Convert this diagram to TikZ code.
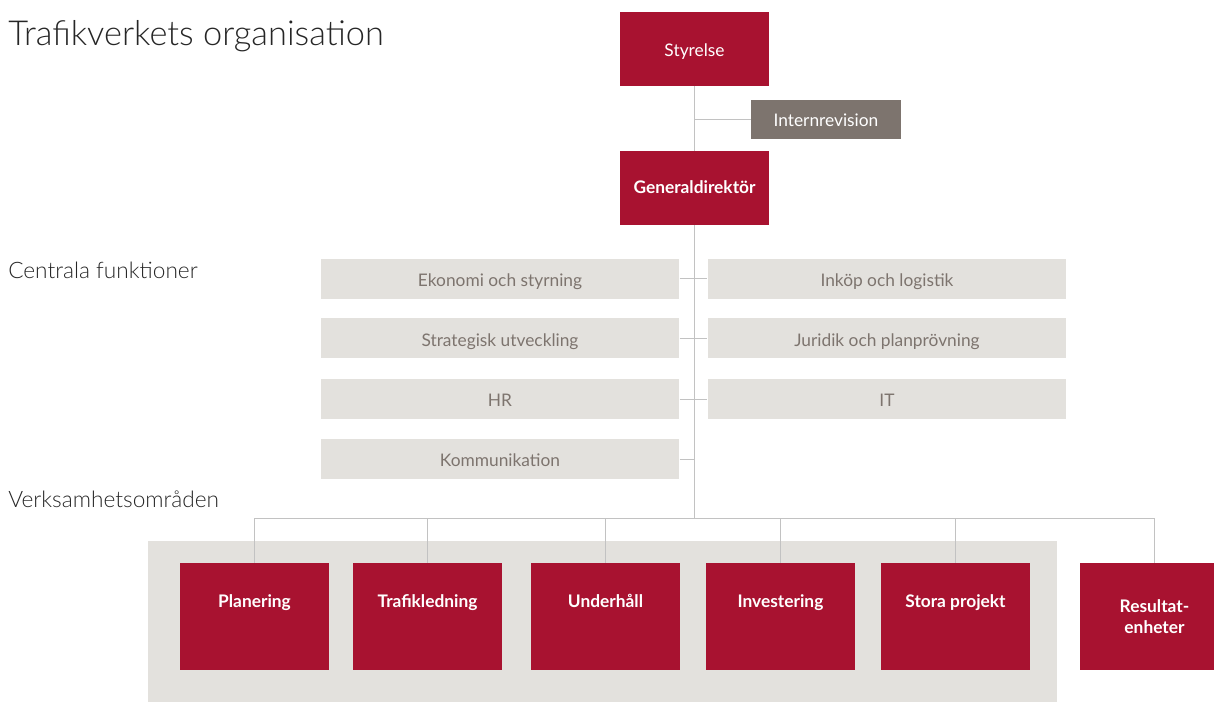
\documentclass[tikz,border=0pt]{standalone}
\usepackage{fontspec}
\setmainfont{Lato}
\IfFontExistsTF{Lato Light}{\newfontfamily\tunnfont{Lato Light}}{\newfontfamily\tunnfont{Lato}}
\definecolor{rod}{HTML}{A81230}
\definecolor{ljusgra}{HTML}{E3E1DD}
\definecolor{brungra}{HTML}{7D746E}
\definecolor{linjegra}{HTML}{C2C2C2}

\begin{document}
\begin{tikzpicture}[x=0.75pt,y=-0.75pt]
\tikzstyle{ruta rod}=[fill=rod,text=white,align=center,minimum width=111.75pt,minimum height=55.5pt,font=\fontsize{13}{16.5}\selectfont]
\tikzstyle{ruta enhet}=[ruta rod,minimum height=80.25pt,font=\fontsize{13}{16}\selectfont\bfseries]
\tikzstyle{topp}=[text height=9.5pt,text depth=23pt]
\tikzstyle{ruta gra}=[fill=ljusgra,text=brungra,minimum width=269pt,minimum height=30pt,text height=11.5pt,text depth=0pt,font=\fontsize{13}{15}\selectfont]
\tikzstyle{rubrik}=[anchor=base west,inner sep=0pt,font=\fontsize{17}{20}\selectfont\tunnfont,text=black!85]
\tikzstyle{linje}=[draw=linjegra,line width=0.75pt]

\useasboundingbox (0,0) rectangle (1214,702);
\fill[ljusgra] (148,541) rectangle (1057,702);

\node[rubrik,font=\fontsize{25.8}{30}\selectfont\tunnfont] (v0) at (8,46) {Trafikverkets organisation};
\node[rubrik] (v00) at (8,279) {Centrala funktioner};
\node[rubrik] (v000) at (8,507) {Verksamhetsområden};

\node[ruta rod,text height=12pt,text depth=0pt] (v1) at (694.5,49) {Styrelse};
\node[ruta rod,fill=brungra,minimum width=112.5pt,minimum height=29.25pt,text height=11pt,text depth=0pt] (v2) at (826,119.5) {Internrevision};
\node[ruta rod,text height=9.5pt,text depth=1pt,font=\fontsize{13}{16}\selectfont\bfseries] (v3) at (694.5,188) {Generaldirektör};

% centrala funktioner
\node[ruta gra] (v4) at (500,279) {Ekonomi och styrning};
\node[ruta gra] (v5) at (500,338.5) {Strategisk utveckling};
\node[ruta gra] (v6) at (500,399) {HR};
\node[ruta gra] (v7) at (500,459) {Kommunikation};
\node[ruta gra] (v8) at (887,279) {Inköp och logistik};
\node[ruta gra] (v9) at (887,338.5) {Juridik och planprövning};
\node[ruta gra] (v10) at (887,399) {IT};

% verksamhetsomraden
\node[ruta enhet,topp] (v11) at (254.5,616.5) {Planering};
\node[ruta enhet,topp] (v12) at (427.5,616.5) {Trafikledning};
\node[ruta enhet,topp] (v13) at (605.5,616.5) {Underhåll};
\node[ruta enhet,topp] (v14) at (780.5,616.5) {Investering};
\node[ruta enhet,topp] (v15) at (955.5,616.5) {Stora projekt};
\node[ruta enhet] (v16) at (1154.5,616.5) {Resultat-\\enheter};

\coordinate (v17) at (694.5,518);
\draw[linje] (v1) -- (v3);
\draw[linje] (v2.west) -- (v2.west -| v1.south);
\draw[linje] (v3) -- (v17);
\draw[linje] (v4.east) -- (v8.west);
\draw[linje] (v5.east) -- (v9.west);
\draw[linje] (v6.east) -- (v10.west);
\draw[linje] (v7.east) -- (v7.east -| v3.south);
\draw[linje] (v11.north) |- (v17);
\draw[linje] (v12.north) |- (v17);
\draw[linje] (v13.north) |- (v17);
\draw[linje] (v14.north) |- (v17);
\draw[linje] (v15.north) |- (v17);
\draw[linje] (v16.north) |- (v17);
\end{tikzpicture}
\end{document}
